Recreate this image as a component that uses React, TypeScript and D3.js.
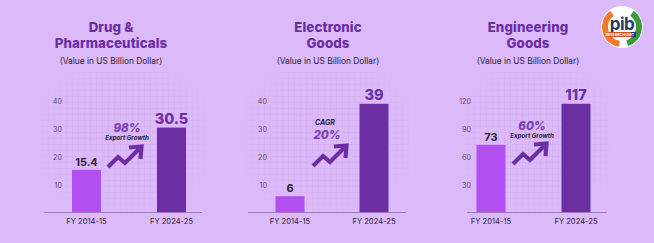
import React from "react";
import * as d3 from "d3";

const categories = ["FY 2014-15", "FY 2024-25"];
const drugValues = [15.4, 30.5];
const electronicValues = [6, 39];
const engineeringValues = [73, 117];
const drugTicks = [10, 20, 30, 40];
const electronicTicks = [10, 20, 30, 40];
const engineeringTicks = [30, 60, 90, 120];
const drugTitle = ["Drug &", "Pharmaceuticals"];
const electronicTitle = ["Electronic", "Goods"];
const engineeringTitle = ["Engineering", "Goods"];
const subtitle = "(Value in US Billion Dollar)";
const drugGrowth = { big: "98%", small: "Export Growth", bigFirst: true };
const electronicGrowth = { big: "20%", small: "CAGR", bigFirst: false };
const engineeringGrowth = { big: "60%", small: "Export Growth", bigFirst: true };

const W = 654;
const H = 243;
const BG = "#dcbaf9";
const LIGHT = "#b14ff0";
const DARK = "#6b2fa3";
const TITLE = "#6a2da3";
const FONT = "Inter, 'DejaVu Sans', sans-serif";

type Panel = {
  title: string[];
  values: number[];
  ticks: number[];
  max: number;
  growth: { big: string; small: string; bigFirst: boolean };
  cx: number;
  axisX: [number, number];
  barCenters: [number, number];
  tickX: number;
  growthX: number;
  growthY: number;
  arrowX: number;
  arrowY: number;
};

const panels: Panel[] = [
  {
    title: drugTitle, values: drugValues, ticks: drugTicks, max: 40, growth: drugGrowth,
    cx: 111, axisX: [44, 202], barCenters: [86.5, 171.5], tickX: 62,
    growthX: 127, growthY: 128, arrowX: 108, arrowY: 167,
  },
  {
    title: electronicTitle, values: electronicValues, ticks: electronicTicks, max: 40, growth: electronicGrowth,
    cx: 328, axisX: [248, 406], barCenters: [290, 374], tickX: 267,
    growthX: 327, growthY: 124, arrowX: 313, arrowY: 166,
  },
  {
    title: engineeringTitle, values: engineeringValues, ticks: engineeringTicks, max: 120, growth: engineeringGrowth,
    cx: 528, axisX: [467, 607], barCenters: [491, 576], tickX: 471,
    growthX: 532, growthY: 126, arrowX: 513, arrowY: 164,
  },
];

const BASE = 212;
const TOP = 101;
const BAR_W = 29;

function Arrow({ x, y }: { x: number; y: number }) {
  const line = d3.line();
  const pts: [number, number][] = [[0, 0], [10, -10], [17, -4], [31, -18]];
  const head: [number, number][] = [[21, -19.5], [33.5, -20.5], [32.5, -8]];
  return (
    <g transform={`translate(${x},${y})`} fill="none" stroke={DARK} strokeWidth={4.2} strokeLinejoin="miter">
      <path d={line(pts) || ""} strokeLinecap="butt" />
      <path d={line(head) || ""} />
    </g>
  );
}

function PanelView({ p, i }: { p: Panel; i: number }) {
  const y = d3.scaleLinear().domain([0, p.max]).range([BASE + 1, TOP]);
  const x = d3.scalePoint<string>().domain(categories).range(p.barCenters);
  const gx0 = p.axisX[0] - 4;
  const gx1 = p.axisX[1] + 4;
  const gy0 = 72;
  const gy1 = BASE + 4;
  return (
    <g>
      <rect x={gx0} y={gy0} width={gx1 - gx0} height={gy1 - gy0} fill="url(#grid)" mask={`url(#fade${i})`} />
      <mask id={`fade${i}`}>
        <rect x={gx0} y={gy0} width={gx1 - gx0} height={gy1 - gy0} fill="url(#radial)" />
      </mask>
      {p.title.map((t, k) => (
        <text key={k} x={p.cx} y={32 + k * 16} textAnchor="middle" fontFamily={FONT} fontWeight={800}
          fontSize={13.3} fill={TITLE} letterSpacing={0.1}>{t}</text>
      ))}
      <text x={p.cx} y={64} textAnchor="middle" fontFamily={FONT} fontSize={8.4} fill="#2b1f3a">{subtitle}</text>
      {p.ticks.map((t) => (
        <text key={t} x={p.tickX} y={y(t) + 2.5} textAnchor="end" fontFamily={FONT} fontSize={7.2} fill="#5d4a70">{t}</text>
      ))}
      {p.values.map((v, k) => {
        const cx = x(categories[k])!;
        return (
          <g key={k}>
            <rect x={cx - BAR_W / 2} y={y(v)} width={BAR_W} height={BASE - y(v)} fill={k === 0 ? LIGHT : DARK} />
            <text x={cx} y={y(v) - 4} textAnchor="middle" fontFamily={FONT} fontWeight={k === 0 ? 700 : 800}
              fontSize={k === 0 ? 11 : 14.5} fill={k === 0 ? "#2a1a3c" : DARK}>{String(v)}</text>
          </g>
        );
      })}
      <line x1={p.axisX[0]} x2={p.axisX[1]} y1={BASE + 0.5} y2={BASE + 0.5} stroke="#9a78bf" strokeWidth={1} />
      {categories.map((c) => (
        <text key={c} x={x(c)} y={224} textAnchor="middle" fontFamily={FONT} fontSize={7.6} fill="#2f2440">{c}</text>
      ))}
      {p.growth.bigFirst ? (
        <g fontFamily={FONT} fontStyle="italic" textAnchor="middle">
          <text x={p.growthX} y={p.growthY + 4} fontWeight={800} fontSize={11.5} fill="#7a3db3">{p.growth.big}</text>
          <text x={p.growthX} y={p.growthY + 11.5} fontWeight={700} fontSize={6.2} fill="#2a1a3c">{p.growth.small}</text>
        </g>
      ) : (
        <g fontFamily={FONT} fontStyle="italic" textAnchor="middle">
          <text x={p.growthX - 2} y={p.growthY + 1} fontWeight={700} fontSize={7} fill="#2a1a3c">{p.growth.small}</text>
          <text x={p.growthX} y={p.growthY + 15} fontWeight={800} fontSize={11.5} fill="#7a3db3">{p.growth.big}</text>
        </g>
      )}
      <Arrow x={p.arrowX} y={p.arrowY} />
    </g>
  );
}

function Logo() {
  const cx = 622, cy = 27, r = 20;
  const arc = d3.arc();
  const orange = arc({ innerRadius: r - 6, outerRadius: r, startAngle: -Math.PI * 0.95, endAngle: -Math.PI * 0.2 }) || "";
  const green = arc({ innerRadius: r - 6, outerRadius: r, startAngle: Math.PI * 0.2, endAngle: Math.PI * 0.9 }) || "";
  return (
    <g>
      <circle cx={cx} cy={cy} r={r + 1} fill="#ffffff" />
      <g transform={`translate(${cx},${cy})`}>
        <path d={orange} fill="#f07a2a" />
        <path d={green} fill="#3a9a3a" />
      </g>
      <text x={cx} y={cy + 3} textAnchor="middle" fontFamily={FONT} fontWeight={700} fontSize={17} fill="#2b3a6a" letterSpacing={-0.5}>pib</text>
      <rect x={cx - 13} y={cy + 5} width={22} height={5} fill="#d0502a" />
      <rect x={cx + 9} y={cy + 5} width={5} height={5} fill="#2b3a6a" />
      <text x={cx - 2} y={cy + 9} textAnchor="middle" fontFamily={FONT} fontSize={3.5} fontWeight={700} fill="#ffffff">RESEARCH UNIT</text>
    </g>
  );
}

export default function App() {
  return (
    <svg width={W} height={H} style={{ position: "absolute", left: 0, top: 0, display: "block" }}>
      <defs>
        <pattern id="grid" width={6} height={6} patternUnits="userSpaceOnUse">
          <path d="M6 0 L0 0 L0 6" fill="none" stroke="#c9a0ec" strokeWidth={0.7} />
        </pattern>
        <radialGradient id="radial" cx="0.5" cy="0.45" r="0.6">
          <stop offset="0" stopColor="#fff" stopOpacity={0.9} />
          <stop offset="0.7" stopColor="#fff" stopOpacity={0.5} />
          <stop offset="1" stopColor="#fff" stopOpacity={0} />
        </radialGradient>
      </defs>
      <rect width={W} height={H} fill={BG} />
      {panels.map((p, i) => <PanelView key={i} p={p} i={i} />)}
      <Logo />
    </svg>
  );
}
